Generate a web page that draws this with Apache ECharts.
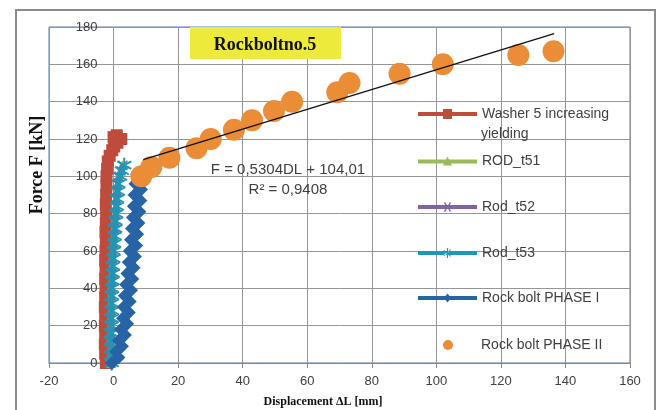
<!DOCTYPE html>
<html><head><meta charset="utf-8">
<script src="https://cdn.jsdelivr.net/npm/echarts@6/dist/echarts.min.js"></script>
<style>html,body{margin:0;padding:0;background:#fff}#c{width:664px;height:410px}</style>
</head><body><div id="c"></div>
<script>
// ---- data ----
const seriesNames = ['Washer 5 increasing', 'ROD_t51', 'Rod_t52', 'Rod_t53', 'Rock bolt PHASE I', 'Rock bolt PHASE II'];

const washerY = [0,5,10,15,20,25,30,35,40,45,50,55,60,65,70,75,80,85,90,95,100,104,108,111,114,116,118,120,122,121];
const washerX = [-2.4,-2.6,-2.7,-2.6,-2.7,-2.6,-2.7,-2.6,-2.5,-2.6,-2.5,-2.6,-2.5,-2.4,-2.5,-2.4,-2.3,-2.4,-2.3,-2.2,-2.2,-2.0,-1.8,-1.2,-0.4,0.2,1.2,2.4,1.0,0.0];

const rodY = [0,4,8,12,16,20,24,28,32,36,40,44,48,52,56,60,64,68,72,76,80,84,88,92,96,100,103,106];
const rod1X = [-0.9,-1.0,-0.9,-1.1,-1.0,-0.9,-1.0,-0.8,-0.9,-0.8,-0.9,-0.7,-0.6,-0.5,-0.4,-0.3,-0.1,0.0,0.2,0.3,0.5,0.7,0.8,1.0,1.2,1.6,2.1,2.7];
const rod2X = [-0.8,-0.9,-0.8,-1.0,-0.9,-0.8,-0.9,-0.7,-0.8,-0.7,-0.8,-0.6,-0.5,-0.4,-0.3,-0.2,0.0,0.1,0.3,0.4,0.6,0.8,0.9,1.1,1.3,1.7,2.3,2.9];
const rod3X = [-0.6,-0.7,-0.6,-0.8,-0.7,-0.6,-0.7,-0.5,-0.6,-0.5,-0.6,-0.4,-0.3,-0.2,-0.1,0.0,0.2,0.3,0.5,0.6,0.8,1.0,1.1,1.3,1.5,2.0,2.6,3.3];

const phase1Y = [0,3,6,9,12,15,18,21,24,27,30,33,36,39,42,45,48,51,54,57,60,63,66,69,72,75,78,81,84,87,90,93,96,99,101];
const phase1X = [-0.5,1.5,0.8,2.6,1.7,3.5,2.3,4.2,2.9,4.7,3.2,5.0,3.5,5.4,3.9,5.8,4.3,6.2,4.7,6.6,5.0,7.0,5.4,7.3,5.7,7.7,6.0,8.0,6.3,8.3,6.5,8.5,6.8,8.4,7.3];

const phase2X = [8.6,11.7,17.3,25.7,30.1,37.3,42.9,49.7,55.3,69.3,73.1,88.6,102.0,125.4,136.3];
const phase2Y = [100,105,110,115,120,125,130,135,140,145,150,155,160,165,167];

const trendSlope = 0.5304;
const trendIntercept = 104.01;
const trendXRange = [9.2, 136.5];

const xAxisRange = [-20, 160, 20];
const yAxisRange = [0, 180, 20];

const chartTitle = 'Rockboltno.5';
const xTitle = 'Displacement ΔL [mm]';
const yTitle = 'Force F [kN]';
const eqLine1 = 'F = 0,5304DL + 104,01';
const eqLine2 = 'R² = 0,9408';
const washerLine2 = 'yielding';

// ---- build ----
const zip = (xs, ys) => xs.map((x, i) => [x, ys[i]]);
const trendData = trendXRange.map(x => [x, trendSlope * x + trendIntercept]);

const colors = ['#BE4B3C', '#9BBB59', '#8064A2', '#1F97B4', '#2864A5', '#EB8C37'];
const asterisk = 'path://M-1.2,-10 L1.2,-10 L1.2,10 L-1.2,10 Z M8.06,6.04 L9.26,3.96 L-8.06,-6.04 L-9.26,-3.96 Z M-9.26,3.96 L-8.06,6.04 L9.26,-3.96 L8.06,-6.04 Z';
const crossSym = 'path://M-10,-8 L-8,-10 L0,-2 L8,-10 L10,-8 L2,0 L10,8 L8,10 L0,2 L-8,10 L-10,8 L-2,0 Z';
const sansFont = 'Liberation Sans';

// legend icons: thick line with the series marker in the middle (59 x 12 box)
const bar = 'M0,4 L59,4 L59,8 L0,8 Z ';
const legendIcons = [
  'path://' + bar + 'M25,1 L34,1 L34,11 L25,11 Z',
  'path://' + bar + 'M29.5,1 L34,10 L25,10 Z',
  'path://' + bar + 'M26,2 L27,1 L29.5,5 L32,1 L33,2 L30.5,6 L33,10 L32,11 L29.5,7 L27,11 L26,10 L28.5,6 Z',
  'path://' + bar + 'M29,1 L30,1 L30,11 L29,11 Z M26,3 L33,9 L32.5,9.8 L25.5,3.8 Z M26,9 L33,3 L32.5,2.2 L25.5,8.2 Z',
  'path://' + bar + 'M29.5,1.5 L33,6 L29.5,10.5 L26,6 Z'
];

const W = 664, H = 410;
const gridL = 49, gridR = 34, gridT = 27, gridB = 47;
const plotW = W - gridL - gridR;
// the vertical axis crosses at x = 0: a second, invisible grid starting there carries the y labels
const zeroX = gridL + plotW * (0 - xAxisRange[0]) / (xAxisRange[1] - xAxisRange[0]);

function lineSeries(name, data, color, symbol, size, z) {
  return {
    name, type: 'line', data, symbol, symbolSize: size, showSymbol: true,
    itemStyle: { color }, lineStyle: { color, width: 5 }, z, animation: false
  };
}

const series = [
  lineSeries(seriesNames[0], zip(washerX, washerY), colors[0], 'rect', 12, 2),
  lineSeries(seriesNames[1], zip(rod1X, rodY), colors[1], 'triangle', 10, 3),
  lineSeries(seriesNames[2], zip(rod2X, rodY), colors[2], crossSym, 10, 4),
  lineSeries(seriesNames[3], zip(rod3X, rodY), colors[3], asterisk, 15, 5),
  lineSeries(seriesNames[4], zip(phase1X, phase1Y), colors[4], 'diamond', 14, 6),
  { name: seriesNames[5], type: 'scatter', data: zip(phase2X, phase2Y), symbol: 'circle', symbolSize: 22,
    itemStyle: { color: colors[5], opacity: 1 }, z: 7, animation: false },
  { name: 'trend', type: 'line', data: trendData, symbol: 'none', lineStyle: { color: '#111', width: 1.3 },
    z: 8, silent: true, animation: false }
];

const legendTops = [107, 154, 200, 246, 291, 337];
const legendText = { fontFamily: sansFont, fontSize: 14, color: '#404040' };
const legends = seriesNames.slice(0, 5).map((n, i) => ({
  data: [{ name: n, icon: legendIcons[i] }], left: 418, top: legendTops[i], orient: 'vertical', padding: 0,
  itemWidth: 59, itemHeight: 12, itemGap: 0, selectedMode: false,
  textStyle: legendText
}));
legends.push({
  data: [seriesNames[5]], left: 443, top: legendTops[5] + 1, orient: 'vertical', padding: 0,
  itemWidth: 10, itemHeight: 10, itemGap: 0, selectedMode: false,
  textStyle: Object.assign({}, legendText, { padding: [0, 0, 0, 23] })
});

const chart = echarts.init(document.getElementById('c'), null, { renderer: 'canvas' });
chart.setOption({
  animation: false,
  backgroundColor: '#fff',
  grid: [
    { left: gridL, right: gridR, top: gridT, bottom: gridB, show: true, borderColor: '#4A7EBB', borderWidth: 1, containLabel: false },
    { left: zeroX, right: gridR, top: gridT, bottom: gridB, show: false, containLabel: false }
  ],
  xAxis: [{
    gridIndex: 0,
    type: 'value', min: xAxisRange[0], max: xAxisRange[1], interval: xAxisRange[2],
    axisLine: { show: true, onZero: false, lineStyle: { color: '#868686', width: 1 } },
    axisTick: { show: true, length: 5, lineStyle: { color: '#868686' } },
    axisLabel: { fontFamily: sansFont, fontSize: 13, color: '#404040', margin: 12 },
    splitLine: { show: true, lineStyle: { color: '#969696', width: 1 } }
  }, {
    gridIndex: 1, type: 'value', min: 0, max: 1, show: false
  }],
  yAxis: [{
    gridIndex: 0,
    type: 'value', min: yAxisRange[0], max: yAxisRange[1], interval: yAxisRange[2],
    axisLine: { show: false },
    axisTick: { show: false },
    axisLabel: { show: false },
    splitLine: { show: true, lineStyle: { color: '#969696', width: 1 } }
  }, {
    gridIndex: 1,
    type: 'value', min: yAxisRange[0], max: yAxisRange[1], interval: yAxisRange[2],
    axisLine: { show: false },
    axisTick: { show: false },
    axisLabel: { fontFamily: sansFont, fontSize: 13, color: '#404040', margin: 16 },
    splitLine: { show: false }
  }],
  legend: legends,
  series,
  graphic: [
    { type: 'rect', z: 100, shape: { x: 16, y: 10, width: 639, height: 420 }, style: { fill: 'none', stroke: '#8C8C8C', lineWidth: 2 } },
    { type: 'rect', z: 100, shape: { x: 190, y: 27, width: 151, height: 32 }, style: { fill: '#EEEA3C' } },
    { type: 'text', z: 101, x: 265, y: 45, style: { text: chartTitle, x: 0, y: 0, align: 'center', verticalAlign: 'middle', font: 'bold 18px "Liberation Serif"', fill: '#111' } },
    { type: 'text', z: 101, x: 288, y: 170, style: { text: eqLine1, align: 'center', verticalAlign: 'middle', font: '15px "Liberation Sans"', fill: '#404040' } },
    { type: 'text', z: 101, x: 288, y: 190, style: { text: eqLine2, align: 'center', verticalAlign: 'middle', font: '15px "Liberation Sans"', fill: '#404040' } },
    { type: 'text', z: 101, x: 481, y: 134, style: { text: washerLine2, align: 'left', verticalAlign: 'middle', font: '14px "Liberation Sans"', fill: '#404040' } },
    { type: 'text', z: 101, x: 323, y: 402, style: { text: xTitle, align: 'center', verticalAlign: 'middle', font: 'bold 12px "Liberation Serif"', fill: '#111' } },
    { type: 'text', z: 101, x: 37, y: 165, rotation: Math.PI / 2, style: { text: yTitle, x: 0, y: 0, align: 'center', verticalAlign: 'middle', font: 'bold 18px "Liberation Serif"', fill: '#111' } }
  ]
});
</script>
</body></html>
